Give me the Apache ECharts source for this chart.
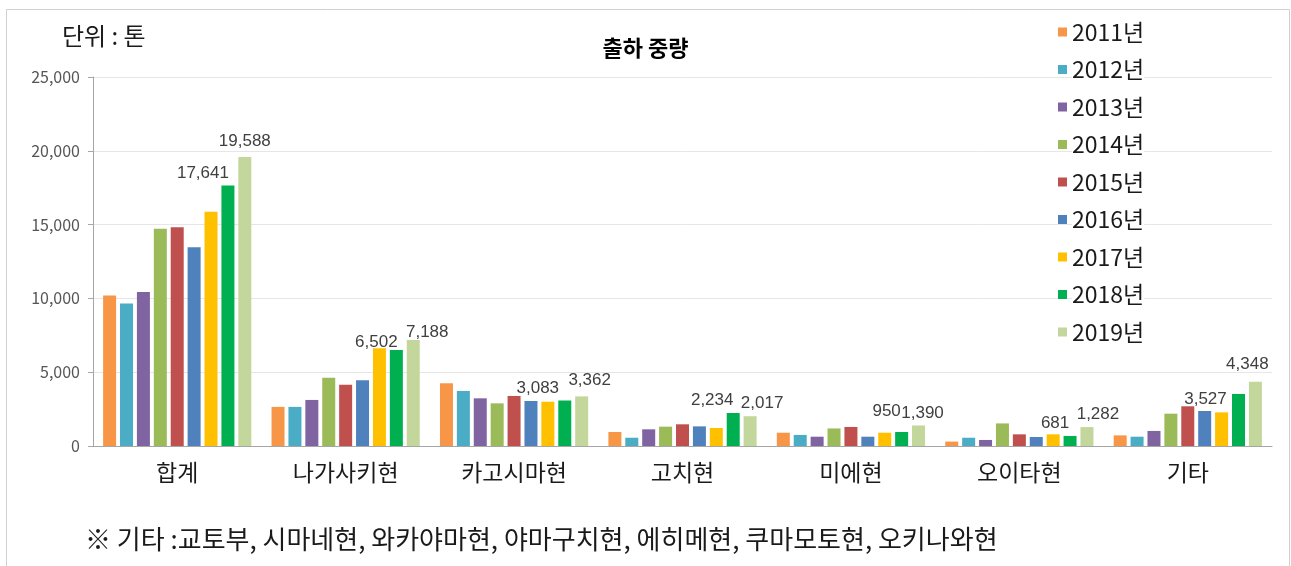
<!DOCTYPE html>
<html><head><meta charset="utf-8">
<script src="https://cdn.jsdelivr.net/npm/echarts@6/dist/echarts.min.js"></script>
<style>html,body{margin:0;padding:0;background:#fff}#c{width:1291px;height:566px}</style>
</head><body><div id="c"></div>
<script>
const categories = ['합계','나가사키현','카고시마현','고치현','미에현','오이타현','기타'];
const years = ['2011년','2012년','2013년','2014년','2015년','2016년','2017년','2018년','2019년'];
const v2011 = [10200, 2650, 4250, 950, 900, 300, 720];
const v2012 = [9650, 2650, 3730, 560, 750, 560, 630];
const v2013 = [10430, 3120, 3230, 1130, 630, 410, 1020];
const v2014 = [14720, 4630, 2890, 1310, 1190, 1530, 2190];
const v2015 = [14820, 4150, 3390, 1470, 1290, 790, 2690];
const v2016 = [13460, 4450, 3050, 1330, 630, 610, 2370];
const v2017 = [15870, 6620, 3000, 1220, 900, 790, 2280];
const v2018 = [17641, 6502, 3083, 2234, 950, 681, 3527];
const v2019 = [19588, 7188, 3362, 2017, 1390, 1282, 4348];
const yTicks = [0, 5000, 10000, 15000, 20000, 25000];

const seriesValues = [v2011,v2012,v2013,v2014,v2015,v2016,v2017,v2018,v2019];
const colors = ['#F79646','#4BACC6','#8064A2','#9BBB59','#C0504D','#4F81BD','#FFC000','#00B050','#C3D69B'];
const labelOffsets = {
  7: [[-25,0],[-20,5],[-27,0],[-21,0],[-15,-8],[-15,0],[-33,18]],
  8: [[0,-3],[14,5],[8,-4],[12,0],[4,0],[11,0],[-8,-5]]
};
const fmt = v => v.toLocaleString('en-US');

const series = seriesValues.map((vals, si) => ({
  name: years[si],
  type: 'bar',
  barGap: '30%',
  barCategoryGap: '12%',
  itemStyle: {color: colors[si]},
  data: vals.map((v, ci) => {
    const d = {value: v};
    if (labelOffsets[si]) {
      d.label = {show: true, position: 'top', distance: 4, offset: labelOffsets[si][ci],
        formatter: p => fmt(p.value), fontSize: 17, color: '#404040', fontFamily: 'Liberation Sans, Arial, sans-serif'};
    }
    return d;
  })
}));

const chart = echarts.init(document.getElementById('c'));
chart.setOption({
  animation: false,
  backgroundColor: '#fff',
  title: {text: '출하 중량', left: 'center', top: 32,
    textStyle: {fontSize: 22, fontWeight: 'bold', color: '#000', fontFamily: 'Noto Sans CJK KR'}},
  legend: {orient: 'vertical', left: 1053, top: 14, itemWidth: 9, itemHeight: 9, itemGap: 11.5,
    icon: 'rect', data: years,
    textStyle: {fontSize: 23, color: '#1a1a1a', lineHeight: 26, backgroundColor: '#fff', fontFamily: 'Noto Sans CJK KR'}},
  grid: {left: 93, right: 19, top: 77, bottom: 120},
  xAxis: {type: 'category', data: categories,
    axisLine: {lineStyle: {color: '#a6a6a6'}}, axisTick: {show: false},
    axisLabel: {fontSize: 23, color: '#1a1a1a', margin: 15, fontFamily: 'Noto Sans CJK KR'}},
  yAxis: {type: 'value', min: yTicks[0], max: yTicks[yTicks.length-1], interval: yTicks[1]-yTicks[0],
    axisLine: {show: true, lineStyle: {color: '#a6a6a6'}},
    axisTick: {show: true, length: 5, lineStyle: {color: '#a6a6a6'}},
    splitLine: {lineStyle: {color: '#e6e6e6'}},
    axisLabel: {fontSize: 16, color: '#555555', margin: 13, formatter: v => fmt(v), fontFamily: 'Noto Sans CJK KR'}},
  graphic: [
    {type: 'rect', shape: {x: 6.5, y: 9.5, width: 1283, height: 600}, silent: true, z: -10,
      style: {fill: 'none', stroke: '#d0d0d0', lineWidth: 1}},
    {type: 'text', left: 62, top: 24, style: {text: '단위 : 톤', fontSize: 24, fill: '#1a1a1a', fontFamily: 'Noto Sans CJK KR'}},
    {type: 'text', left: 85, top: 526, style: {text: '※ 기타 :교토부, 시마네현, 와카야마현, 야마구치현, 에히메현, 쿠마모토현, 오키나와현', fontSize: 26, fill: '#1a1a1a', fontFamily: 'Noto Sans CJK KR'}}
  ],
  series: series
});
</script></body></html>
